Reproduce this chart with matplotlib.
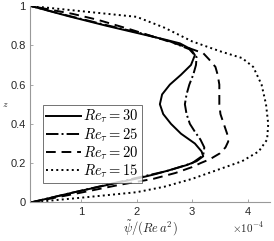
import matplotlib
matplotlib.use("Agg")
import matplotlib.pyplot as plt
import numpy as np

plt.rcParams['mathtext.fontset'] = 'cm'
plt.rcParams['font.family'] = ['Liberation Sans', 'DejaVu Sans']

# Re_tau = 30 (solid)
z30 = [0.0, 0.05, 0.10, 0.125, 0.145, 0.165, 0.19, 0.21, 0.235, 0.26, 0.30, 0.35, 0.40, 0.45, 0.50,
       0.55, 0.60, 0.65, 0.70, 0.75, 0.78, 0.81, 0.83, 0.86, 0.90, 0.95, 1.0]
x30 = [0.10, 0.85, 1.65, 2.06, 2.35, 2.60, 2.90, 3.08, 3.20, 3.17, 3.05, 2.80, 2.62, 2.48, 2.42,
       2.46, 2.60, 2.80, 2.98, 3.05, 2.98, 2.78, 2.50, 2.05, 1.45, 0.75, 0.10]
# Re_tau = 25 (dash-dot)
z25 = [0.0, 0.05, 0.10, 0.125, 0.16, 0.20, 0.24, 0.28, 0.32, 0.36, 0.40, 0.45, 0.50,
       0.55, 0.60, 0.65, 0.70, 0.74, 0.78, 0.82, 0.86, 0.90, 0.95, 1.0]
x25 = [0.10, 0.85, 1.62, 2.00, 2.55, 3.00, 3.20, 3.22, 3.15, 3.05, 2.96, 2.90, 2.87,
       2.90, 2.95, 3.02, 3.07, 3.08, 2.95, 2.60, 2.10, 1.50, 0.78, 0.10]
# Re_tau = 20 (dashed)
z20 = [0.0, 0.05, 0.09, 0.12, 0.15, 0.18, 0.20, 0.22, 0.25, 0.28, 0.31, 0.35, 0.40, 0.45, 0.50,
       0.55, 0.60, 0.65, 0.69, 0.73, 0.76, 0.80, 0.84, 0.88, 0.93, 0.96, 1.0]
x20 = [0.10, 1.00, 1.70, 2.30, 2.70, 3.00, 3.15, 3.32, 3.50, 3.60, 3.65, 3.63, 3.57, 3.51, 3.49,
       3.49, 3.49, 3.46, 3.42, 3.30, 3.20, 2.80, 2.35, 1.90, 1.30, 0.85, 0.10]
# Re_tau = 15 (dotted)
z15 = [0.0, 0.024, 0.052, 0.08, 0.12, 0.17, 0.21, 0.26, 0.32, 0.40, 0.50, 0.60, 0.69, 0.735,
       0.77, 0.82, 0.89, 0.945, 1.0]
x15 = [0.10, 1.00, 2.00, 2.50, 3.00, 3.50, 3.90, 4.20, 4.35, 4.37, 4.33, 4.25, 4.10, 3.90,
       3.50, 3.00, 2.50, 2.00, 0.10]

labels = [r'$Re_\tau = 30$', r'$Re_\tau = 25$', r'$Re_\tau = 20$', r'$Re_\tau = 15$']
yticks = [0, 0.2, 0.4, 0.6, 0.8, 1]
xticks = [1, 2, 3, 4]

fig = plt.figure(figsize=(2.74, 2.41), dpi=100)
ax = fig.add_axes([0.109, 0.160, 0.876, 0.815])

lw = 1.4
ax.plot(x30, z30, '-', color='k', lw=lw, label=labels[0])
ax.plot(x25, z25, '-.', color='k', lw=lw, label=labels[1])
ax.plot(x20, z20, '--', color='k', lw=lw, label=labels[2], dashes=(5, 3))
ax.plot(x15, z15, ':', color='k', lw=lw, label=labels[3])

ax.set_xlim(0.08, 4.4)
ax.set_ylim(0, 1)
ax.set_xticks(xticks)
ax.set_xticklabels([str(t) for t in xticks])
ax.set_yticks(yticks)
ax.set_yticklabels(['0', '0.2', '0.4', '0.6', '0.8', '1'])
for s in ['top', 'right']:
    ax.spines[s].set_visible(False)
for s in ['left', 'bottom']:
    ax.spines[s].set_color('#999999')
    ax.spines[s].set_linewidth(0.8)
ax.tick_params(direction='in', length=2.5, width=0.6, color='#999999',
               labelsize=8, labelcolor='#262626', pad=3)

ax.set_xlabel(r'$\tilde{\psi}/(Re\,a^2)$', fontsize=9, color='#262626', labelpad=1)
fig.text(5.5 / 274, 1 - 104 / 241, r'$z$', fontsize=7, color='#262626',
         ha='center', va='center')
fig.text(0.845, 0.035, r'$\times10^{-4}$', fontsize=8, color='#262626')

leg = ax.legend(loc='lower left', bbox_to_anchor=(0.054, 0.099), fontsize=10.5,
                frameon=True, fancybox=False, edgecolor='#333333',
                handlelength=2.4, handletextpad=0.15, borderpad=0.2,
                labelspacing=0.05, borderaxespad=0)
leg.get_frame().set_linewidth(0.6)

fig.savefig('out.png', dpi=100)
